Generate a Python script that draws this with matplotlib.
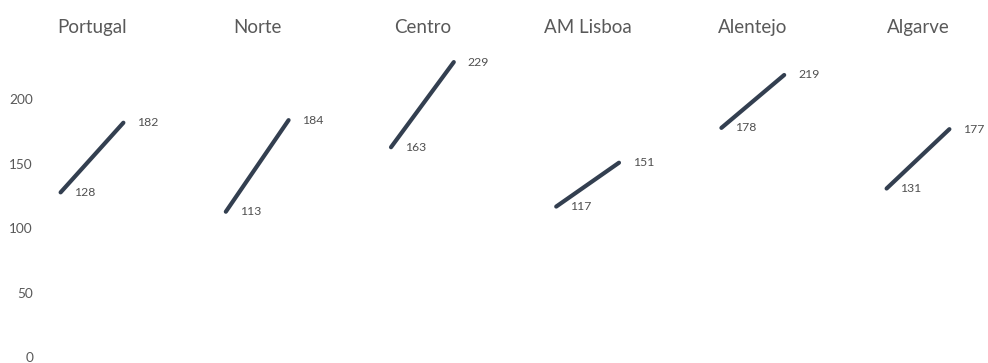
import matplotlib
matplotlib.use("Agg")
import matplotlib.pyplot as plt

regions = ["Portugal", "Norte", "Centro", "AM Lisboa", "Alentejo", "Algarve"]
start_values = [128, 113, 163, 117, 178, 131]
end_values = [182, 184, 229, 151, 219, 177]
y_ticks = [0, 50, 100, 150, 200]

plt.rcParams['font.family'] = ['Lato', 'DejaVu Sans']

W, H, DPI = 988, 363, 100
fig = plt.figure(figsize=(W / DPI, H / DPI), dpi=DPI)
left_px = 40
ax = fig.add_axes([left_px / W, 0, 1 - left_px / W, 1])

x0_px, x_step = 92.0, 165.2
half = 0.19
ax.set_xlim((left_px - x0_px) / x_step, (W - x0_px) / x_step)
y0_px, y_scale = 357.5, 1.29
ax.set_ylim((y0_px - H) / y_scale, y0_px / y_scale)

line_color = "#333F50"
text_gray = "#595959"

for i, (name, a, b) in enumerate(zip(regions, start_values, end_values)):
    xs = [i - half, i + half]
    ax.plot(xs, [a, b], color=line_color, lw=3.0, solid_capstyle="round")
    ax.annotate(str(a), (xs[0], a), xytext=(10, 0), textcoords="offset points",
                va="center", ha="left", fontsize=8.8, color="#505050")
    ax.annotate(str(b), (xs[1], b), xytext=(10, 0), textcoords="offset points",
                va="center", ha="left", fontsize=8.8, color="#505050")
    ax.text(i, (y0_px - 33.5) / y_scale, name, ha="center", va="baseline",
            fontsize=13.5, color=text_gray)

ax.set_yticks(y_ticks)
ax.set_yticklabels([str(t) for t in y_ticks], fontsize=9.8, color=text_gray)
ax.tick_params(axis="y", length=0, pad=5)
ax.set_xticks([])
for s in ax.spines.values():
    s.set_visible(False)

fig.savefig("out.png", dpi=DPI)
